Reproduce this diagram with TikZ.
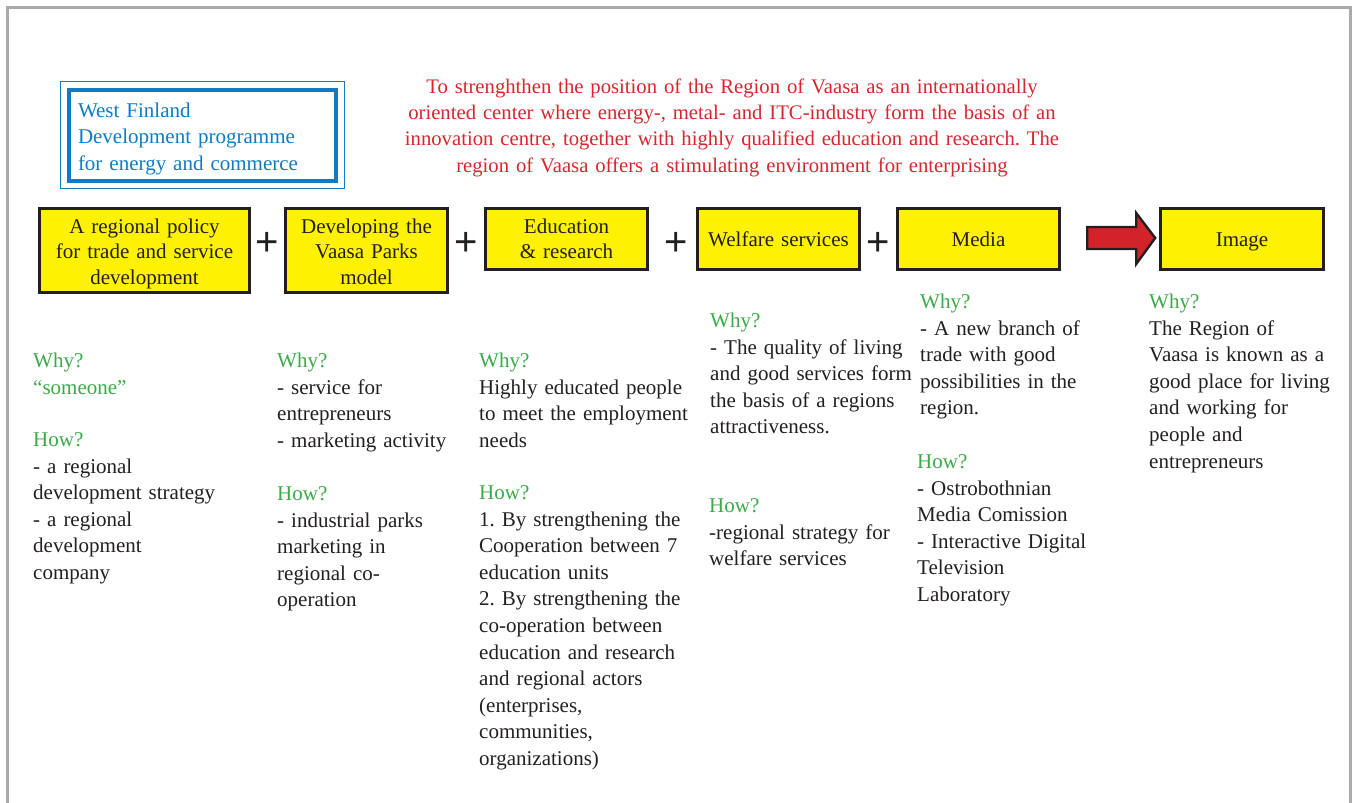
\documentclass[tikz,border=0pt]{standalone}
\usepackage{fontspec}
\setmainfont{Liberation Serif}
\setsansfont{Liberation Sans}
\usetikzlibrary{calc}
\definecolor{framegray}{HTML}{A8AAAD}
\definecolor{boxyellow}{HTML}{FFF200}
\definecolor{ink}{HTML}{231F20}
\definecolor{txtgreen}{HTML}{3BAA49}
\definecolor{progblue}{HTML}{0E7BC4}
\definecolor{goalred}{HTML}{D7262E}
\definecolor{arrowred}{HTML}{D2232A}
\newcommand\dgbody{\fontsize{21}{26.6}\selectfont\spaceskip=4.6pt plus 1pt minus 1pt\relax}
\newcommand\dgbox{\fontsize{21}{25.5}\selectfont}
\newcommand\dgred{\fontsize{20.7}{26.4}\selectfont}
\newcommand\dgplus{\sffamily\fontsize{40}{40}\selectfont}
\newcommand\gr[1]{\textcolor{txtgreen}{#1}}
\begin{document}
\frenchspacing
\begin{tikzpicture}[x=1pt,y=-1pt,
  stagebox/.style={draw=ink, line width=2.6pt, fill=boxyellow, align=center,
    text=ink, font=\dgbox, inner sep=0pt, text height=14.5pt, text width=#1},
  stagebox/.default=156pt,
  coltext/.style={anchor=base west, text width=240pt, align=left,
    inner sep=0pt, text=ink, font=\dgbody},
  plussign/.style={font=\dgplus, text=ink, inner sep=0pt},
  blockarrow/.style={draw=ink, line width=2.4pt, fill=arrowred, line join=miter}
]
\useasboundingbox (0,0) rectangle (1353,803);
% frame
\draw[framegray, line width=2.6pt] (7.5,810) -- (7.5,7.3) -- (1350.5,7.3) -- (1350.5,810);

% programme box
\node[draw=progblue, line width=4pt, minimum width=267.6pt, minimum height=90.7pt,
  inner xsep=9.3pt, inner ysep=0pt, text width=249pt, align=left, text=progblue,
  font=\dgbody, text height=14.3pt, text depth=50.9pt] (prog) at (202.5,135.3)
  {West Finland\\Development programme\\for energy and commerce};
\draw[progblue, line width=1pt] ($(prog.north west)+(-6,-6)$) rectangle ($(prog.south east)+(6,6)$);

% goal text
\node[anchor=base, text width=720pt, align=center, inner sep=0pt, text=goalred, font=\dgred]
  (goal) at (732,93)
  {To strenghthen the position of the Region of Vaasa as an internationally\\
   oriented center where energy-, metal- and ITC-industry form the basis of an\\
   innovation centre, together with highly qualified education and research. The\\
   region of Vaasa offers a stimulating environment for enterprising};

% stage boxes
\node[stagebox=204pt, minimum width=210pt, minimum height=84pt, text depth=49.5pt] (policy) at (144.5,250.5)
  {A regional policy\\for trade and service\\development};
\node[stagebox, minimum width=162pt, minimum height=84pt, text depth=49.5pt] (parks) at (366.5,250.5)
  {Developing the\\Vaasa Parks\\model};
\node[stagebox, minimum width=162pt, minimum height=61pt, text depth=26.5pt] (edu) at (566.5,239)
  {Education\\\& research};
\node[stagebox, minimum width=162pt, minimum height=61pt, text depth=0pt] (welfare) at (778.5,239)
  {Welfare services};
\node[stagebox, minimum width=162pt, minimum height=61pt, text depth=0pt] (media) at (978.5,239)
  {Media};
\node[stagebox, minimum width=163pt, minimum height=61pt, text depth=-1.5pt] (img) at (1242,239)
  {Image};

% plus signs
\node[plussign] (p1) at (267,244) {+};
\node[plussign] (p2) at (466,244) {+};
\node[plussign] (p3) at (676,244) {+};
\node[plussign] (p4) at (878,244) {+};

% block arrow media -> image
\coordinate (atip) at ($(img.west)+(-4,-1)$);
\draw[blockarrow] ($(atip)+(-68,-11)$) -- ++(49,0) -- ++(0,-14) -- (atip)
  -- ++(-19,26) -- ++(0,-15) -- ++(-49,0) -- cycle;

% column 1
\node[coltext] (c1why) at (33,367.5) {\gr{Why?}\\\gr{“someone”}};
\node[coltext] (c1how) at (33,446.5)
  {\gr{How?}\\- a regional\\development strategy\\- a regional\\development\\company};
% column 2
\node[coltext] (c2why) at (277,367.5)
  {\gr{Why?}\\- service for\\entrepreneurs\\- marketing activity};
\node[coltext] (c2how) at (277,500.5)
  {\gr{How?}\\- industrial parks\\marketing in\\regional co-\\operation};
% column 3
\node[coltext] (c3why) at (479,367.5)
  {\gr{Why?}\\Highly educated people\\to meet the employment\\needs};
\node[coltext] (c3how) at (479,499.5)
  {\gr{How?}\\1. By strengthening the\\Cooperation between 7\\education units\\2. By strengthening the\\co-operation between\\education and research\\and regional actors\\(enterprises,\\communities,\\organizations)};
% column 4
\node[coltext] (c4why) at (710,327.5)
  {\gr{Why?}\\- The quality of living\\and good services form\\the basis of a regions\\attractiveness.};
\node[coltext] (c4how) at (709,512.5)
  {\gr{How?}\\-regional strategy for\\welfare services};
% column 5
\node[coltext] (c5why) at (920,308.5)
  {\gr{Why?}\\- A new branch of\\trade with good\\possibilities in the\\region.};
\node[coltext] (c5how) at (917,468.5)
  {\gr{How?}\\- Ostrobothnian\\Media Comission\\- Interactive Digital\\Television\\Laboratory};
% column 6
\node[coltext] (c6why) at (1149,308.5)
  {\gr{Why?}\\The Region of\\Vaasa is known as a\\good place for living\\and working for\\people and\\entrepreneurs};
\end{tikzpicture}
\end{document}
